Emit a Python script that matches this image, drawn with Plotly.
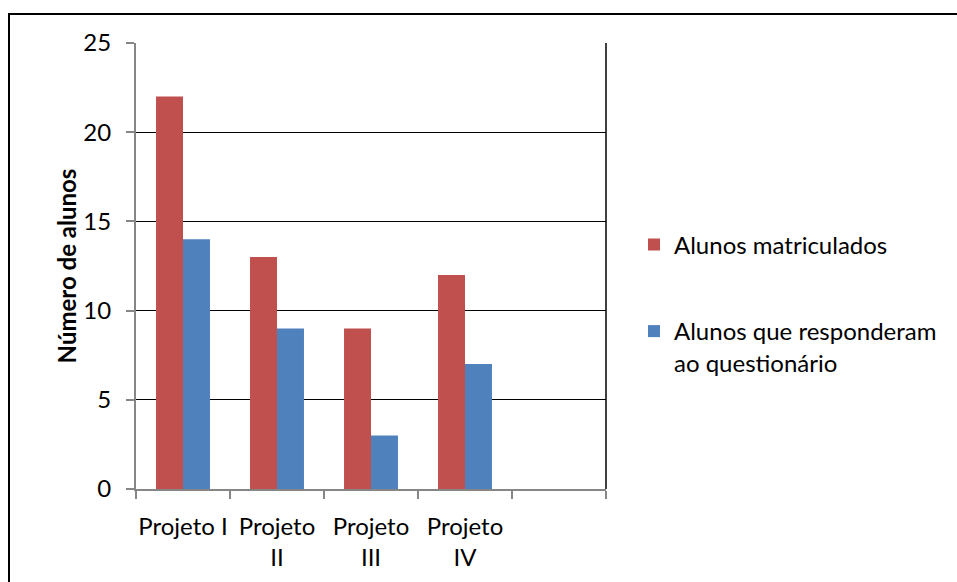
import plotly.graph_objects as go

# Enrolment vs. questionnaire responses per project
categorias = ["Projeto I", "Projeto<br>II", "Projeto<br>III", "Projeto<br>IV", " "]
matriculados = [22, 13, 9, 12, None]
responderam = [14, 9, 3, 7, None]

nome_matriculados = "Alunos matriculados"
nome_responderam = "Alunos que responderam<br>ao questionário"
titulo_y = "Número de alunos"

FONT = "Lato"
AXIS_GRAY = "#868686"

W, H = 957, 582
ML, MR, MT, MB = 136, 351, 43, 93
PW, PH = W - ML - MR, H - MT - MB


def px_x(x):
    return (x - ML) / PW


def px_y(y):
    return (H - MB - y) / PH


fig = go.Figure()
fig.add_trace(go.Bar(
    x=categorias, y=matriculados, name=nome_matriculados,
    marker=dict(color="#C0504D", line=dict(width=0)), legend="legend",
))
fig.add_trace(go.Bar(
    x=categorias, y=responderam, name=nome_responderam,
    marker=dict(color="#4F81BD", line=dict(width=0)), legend="legend2",
))

fig.update_layout(
    width=W, height=H,
    margin=dict(l=ML, r=MR, t=MT, b=MB, pad=0, autoexpand=False),
    paper_bgcolor="white", plot_bgcolor="white",
    font=dict(family=FONT, size=24, color="black"),
    barmode="group", bargap=0.426, bargroupgap=0,
    showlegend=True,
    legend=dict(x=px_x(634), xanchor="left", y=px_y(245), yanchor="middle",
                bgcolor="rgba(0,0,0,0)", font=dict(size=24)),
    legend2=dict(x=px_x(634), xanchor="left", y=px_y(309), yanchor="top",
                 valign="top", bgcolor="rgba(0,0,0,0)", font=dict(size=24)),
    xaxis=dict(
        type="category", showgrid=False, zeroline=False, automargin=False,
        showline=True, linecolor=AXIS_GRAY, linewidth=2,
        ticks="outside", tickson="boundaries", ticklen=8,
        tickcolor=AXIS_GRAY, tickwidth=2, tickangle=0,
        ticklabelstandoff=15, tickfont=dict(size=24),
    ),
    yaxis=dict(
        range=[0, 25], dtick=5, tick0=0, automargin=False,
        showgrid=True, gridcolor="black", gridwidth=1, zeroline=False,
        showline=True, linecolor=AXIS_GRAY, linewidth=2,
        ticks="outside", ticklen=8, tickcolor=AXIS_GRAY, tickwidth=2,
        ticklabelstandoff=10, tickfont=dict(size=24),
        title=dict(text="<b>" + titulo_y + "</b>", font=dict(size=24), standoff=0),
    ),
    shapes=[
        # right edge of the plot area
        dict(type="line", xref="paper", yref="paper", x0=1, x1=1, y0=0, y1=1,
             line=dict(color="black", width=1.5), layer="above"),
        # outer chart frame (runs past the right and bottom edges)
        dict(type="rect", xref="paper", yref="paper",
             x0=px_x(9), x1=px_x(1100), y0=px_y(700), y1=px_y(14),
             line=dict(color="black", width=2), fillcolor="rgba(0,0,0,0)",
             layer="below"),
    ],
)

fig.write_html("out.html")
